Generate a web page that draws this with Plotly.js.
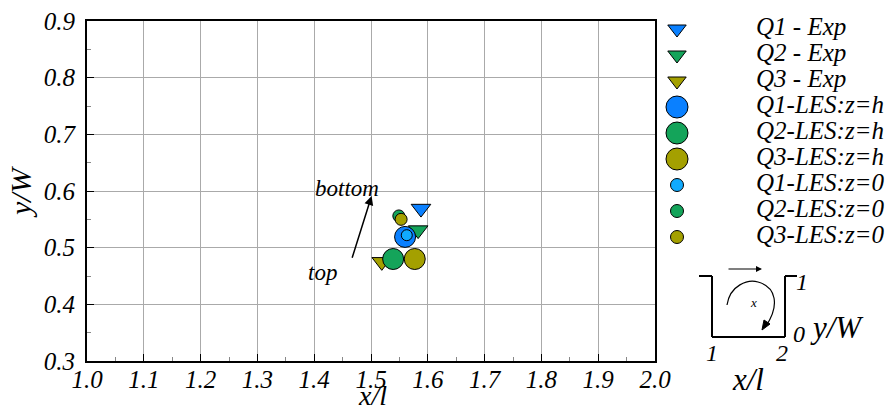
<!DOCTYPE html>
<html><head><meta charset="utf-8">
<script src="https://cdn.plot.ly/plotly-3.0.1.min.js"></script>
<style>html,body{margin:0;padding:0;background:#fff}#chart{width:889px;height:410px}</style>
</head><body><div id="chart"></div>
<script>
// ---- data ----
const seriesNames = ["Q1 - Exp","Q2 - Exp","Q3 - Exp","Q1-LES:z=h","Q2-LES:z=h","Q3-LES:z=h","Q1-LES:z=0","Q2-LES:z=0","Q3-LES:z=0"];
const xVals = [1.588, 1.583, 1.519, 1.560, 1.539, 1.577, 1.563, 1.549, 1.553];
const yVals = [0.569, 0.531, 0.475, 0.519, 0.480, 0.480, 0.522, 0.556, 0.550];
const xTicks = [1.0,1.1,1.2,1.3,1.4,1.5,1.6,1.7,1.8,1.9,2.0];
const yTicks = [0.3,0.4,0.5,0.6,0.7,0.8,0.9];
// ---- styles ----
const colors = ["#0A80FF","#14A45A","#A4A000","#0A80FF","#14A45A","#A4A000","#10AAFF","#14A45A","#A4A000"];
const symbols = ["triangle-down","triangle-down","triangle-down","circle","circle","circle","circle","circle","circle"];
const sizes = [17,17,17,21,21,21,11,12,12];
const legSizes = [16,16,16,22,22,22,13,13,13];

const W=889,H=410,L=87,PR=W-4,R=655,T=21,B=361;
const PW=PR-L;
const px=(x)=>(x-L)/PW, py=(y)=>(B-y)/(B-T);
const serif="Liberation Serif, serif";
const it=(s)=>"<i>"+s+"</i>";

const data = [];
// main markers
seriesNames.forEach((n,i)=>data.push({
  type:"scatter", mode:"markers", name:n, showlegend:false, xaxis:"x", yaxis:"y",
  x:[xVals[i]], y:[yVals[i]],
  marker:{symbol:symbols[i], size:sizes[i], color:colors[i], line:{color:"#000",width:1}}
}));
// legend (drawn on a helper axis in pixel units)
const legX=677, legTextX=756, legY0=29, legDY=26;
const legYs = seriesNames.map((n,i)=>legY0+legDY*i);
seriesNames.forEach((n,i)=>data.push({
  type:"scatter", mode:"markers", showlegend:false, xaxis:"x2", yaxis:"y2", hoverinfo:"skip",
  x:[legX], y:[legYs[i]], cliponaxis:false,
  marker:{symbol:symbols[i], size:legSizes[i], color:colors[i], line:{color:"#000",width:1}}
}));
data.push({type:"scatter", mode:"text", showlegend:false, xaxis:"x2", yaxis:"y2", cliponaxis:false,
  x:seriesNames.map(()=>legTextX), y:legYs, text:seriesNames.map(it), textposition:"middle right",
  textfont:{family:serif,size:25,color:"#000"}});

const line=(x0,y0,x1,y1)=>({type:"line",xref:"paper",yref:"paper",x0:px(x0),y0:py(y0),x1:px(x1),y1:py(y1),line:{color:"#000",width:2}});
const P=(x,y)=>px(x).toFixed(5)+","+py(y).toFixed(5);
const shapes=[
  line(699,276,712,276), line(712,276,712,337), line(712,337,785,337), line(785,337,785,276), line(785,276,797,276),
  {type:"path",xref:"paper",yref:"paper",line:{color:"#000",width:1.2},
   path:"M "+P(727,305)+" C "+P(730,285)+" "+P(748,279)+" "+P(758,282)+" C "+P(776,287)+" "+P(780,305)+" "+P(766,326)},
  {type:"path",xref:"paper",yref:"paper",line:{color:"#000",width:1},fillcolor:"#000",
   path:"M "+P(762,330)+" L "+P(764,320)+" L "+P(770,324)+" Z"}
];
const ann=(text,x,y,size,rot)=>({text:it(text),xref:"paper",yref:"paper",x:px(x),y:py(y),showarrow:false,textangle:rot||0,
  font:{family:serif,size:size,color:"#000"},xanchor:"center",yanchor:"middle"});
const annotations=[
  {xref:"x",yref:"y",axref:"x",ayref:"y",x:1.501,y:0.591,ax:1.466,ay:0.4795,showarrow:true,arrowhead:2,arrowsize:1.2,arrowwidth:1.5,arrowcolor:"#000",text:""},
  ann("top",322,272,23),
  ann("bottom",347,188,23),
  {xref:"paper",yref:"paper",x:px(762),y:py(269),ax:-35,ay:0,showarrow:true,arrowhead:2,arrowsize:1,arrowwidth:1.2,arrowcolor:"#000",text:""},
  ann("x",753,302,13),
  ann("1",712,353,24), ann("2",782,353,24), ann("0",799,334,24), ann("1",802,282,24),
  ann("y/W",837,327,31), ann("x/l",748,379,31),
  // main axis titles
  ann("x/l",372,395,28), ann("y/W",20,192,30,-90)
];

const axisCommon={showline:true,mirror:true,linecolor:"#000",linewidth:2,ticks:"inside",ticklen:7,tickcolor:"#000",
  showgrid:true,gridcolor:"#aaa",gridwidth:1,zeroline:false,
  tickfont:{family:serif,size:25,color:"#000"}};

const layout={
  width:W,height:H,margin:{l:L,r:W-PR,t:T,b:H-B},
  font:{family:serif,color:"#000"},
  paper_bgcolor:"#fff",plot_bgcolor:"rgba(0,0,0,0)",
  xaxis:Object.assign({},axisCommon,{domain:[0,(R-L)/PW],range:[1.0,2.0],tickvals:xTicks,ticktext:xTicks.map(v=>it(v.toFixed(1))),
    minor:{ticks:"inside",ticklen:4,tickcolor:"#888",showgrid:false,dtick:0.05},ticklabelstandoff:-5}),
  yaxis:Object.assign({},axisCommon,{range:[0.3,0.9],tickvals:yTicks,ticktext:yTicks.map(v=>it(v.toFixed(1))),
    minor:{ticks:"inside",ticklen:4,tickcolor:"#888",showgrid:false,dtick:0.05},ticklabelstandoff:5}),
  xaxis2:{domain:[(R+5-L)/PW,1],range:[R+5,PR],visible:false,fixedrange:true,anchor:"y2"},
  yaxis2:{domain:[0,1],range:[B,T],visible:false,fixedrange:true,anchor:"x2"},
  showlegend:false,
  shapes:shapes,annotations:annotations
};
Plotly.newPlot("chart",data,layout,{staticPlot:true,displayModeBar:false});
</script></body></html>
